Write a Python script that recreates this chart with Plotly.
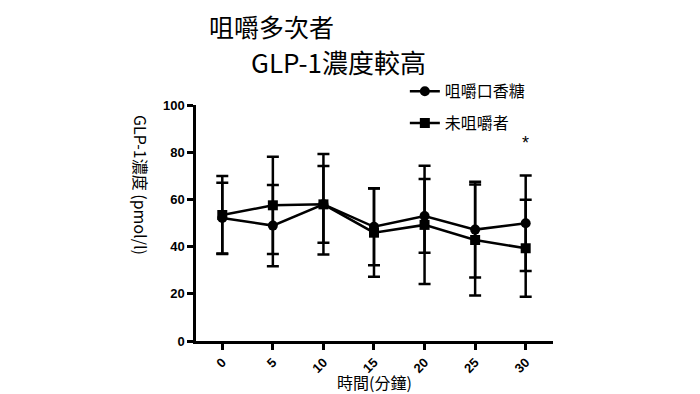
import plotly.graph_objects as go

times = [0, 5, 10, 15, 20, 25, 30]
gum_mean = [52.1, 48.9, 57.9, 48.4, 53.0, 47.2, 49.9]
gum_sd = [15.0, 17.2, 16.3, 16.3, 15.6, 20.3, 20.2]
none_mean = [53.4, 57.5, 57.9, 45.9, 49.2, 42.8, 39.3]
none_sd = [16.5, 20.6, 21.3, 18.7, 25.1, 23.5, 20.6]
x_ticks = [0, 5, 10, 15, 20, 25, 30]
y_ticks = [0, 20, 40, 60, 80, 100]
sig_time = 30
sig_y = 84

CJK = "Noto Sans CJK TC, Liberation Sans, sans-serif"
LAT = "Liberation Sans, Arial, sans-serif"

fig = go.Figure()
fig.add_trace(go.Scatter(
    x=times, y=gum_mean, name="咀嚼口香糖", legendgroup="a",
    mode="lines+markers",
    line=dict(color="black", width=2.5),
    marker=dict(symbol="circle", size=10, color="black"),
    error_y=dict(type="data", array=gum_sd, visible=True, color="black", thickness=2.5, width=6),
))
fig.add_trace(go.Scatter(
    x=times, y=none_mean, name="未咀嚼者", legendgroup="b",
    mode="lines+markers",
    line=dict(color="black", width=2.5),
    marker=dict(symbol="square", size=10, color="black"),
    error_y=dict(type="data", array=none_sd, visible=True, color="black", thickness=2.5, width=6),
))

fig.add_annotation(x=sig_time, y=sig_y, text="*", showarrow=False, xref="x", yref="y",
                   font=dict(family=LAT, size=18, color="black"))
fig.add_annotation(x=0.034, y=1.333, xref="paper", yref="paper", xanchor="left", yanchor="middle",
                   text="咀嚼多次者", showarrow=False, borderpad=0,
                   font=dict(family=CJK, size=25, color="black"))
fig.add_annotation(x=0.15, y=1.183, xref="paper", yref="paper", xanchor="left", yanchor="middle",
                   text="GLP-1濃度較高", showarrow=False, borderpad=0,
                   font=dict(family=CJK, size=26, color="black"))
fig.add_annotation(x=0.5, y=-0.175, xref="paper", yref="paper", xanchor="center", yanchor="middle",
                   text="時間(分鐘)", showarrow=False,
                   font=dict(family=CJK, size=16, color="black"))
fig.add_annotation(x=-0.154, y=0.661, xref="paper", yref="paper", xanchor="center", yanchor="middle",
                   text="GLP-1濃度 (pmol/l)", showarrow=False, textangle=90,
                   font=dict(family=CJK, size=16, color="black"))

fig.update_layout(
    width=700, height=394,
    margin=dict(l=188, r=155, t=97, b=61, autoexpand=False),
    paper_bgcolor="white", plot_bgcolor="white",
    showlegend=True,
    legend=dict(x=0.585, y=1.13, xanchor="left", yanchor="top",
                font=dict(family=CJK, size=16, color="black"),
                tracegroupgap=8, bgcolor="rgba(0,0,0,0)", itemwidth=30),
)
fig.update_xaxes(
    range=[-2.6, 32.7], tickvals=x_ticks, ticktext=[str(t) for t in x_ticks],
    tickangle=-45, ticks="outside", ticklen=6, tickwidth=2.5, tickcolor="black",
    showline=True, linecolor="black", linewidth=2.5, showgrid=False, zeroline=False,
    tickfont=dict(family=LAT, size=13, color="black", weight="bold"),
)
fig.update_yaxes(
    range=[0, 100], tickvals=y_ticks, ticks="outside", ticklen=6, tickwidth=2.5, tickcolor="black",
    showline=True, linecolor="black", linewidth=2.5, showgrid=False, zeroline=False,
    tickfont=dict(family=LAT, size=13, color="black", weight="bold"),
)

fig.write_html("out.html")
